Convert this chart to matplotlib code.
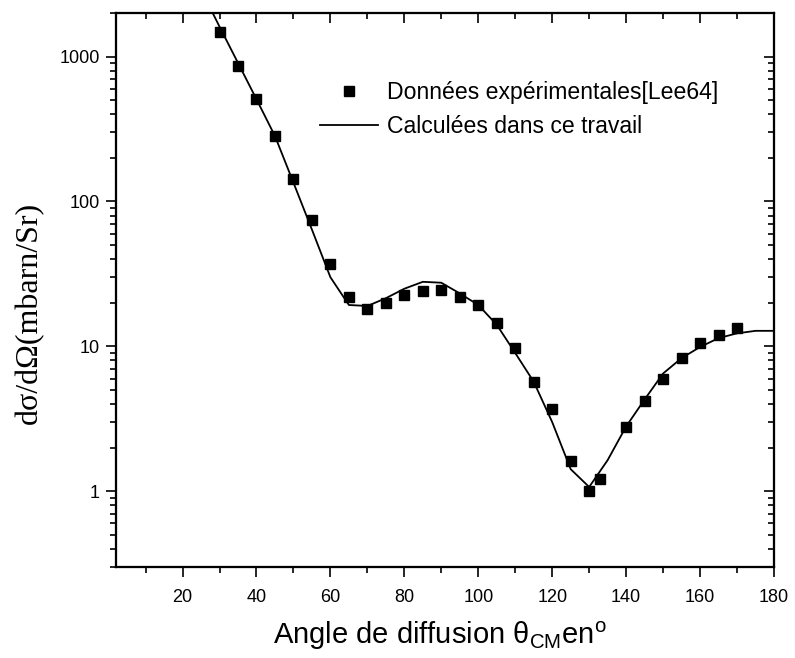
import numpy as np
import matplotlib
matplotlib.use("Agg")
import matplotlib.pyplot as plt
from matplotlib.ticker import FixedLocator, NullFormatter, LogLocator, MultipleLocator

plt.rcParams['font.family'] = ['Liberation Sans', 'DejaVu Sans']
plt.rcParams['mathtext.fontset'] = 'custom'
plt.rcParams['mathtext.rm'] = 'Liberation Sans'
plt.rcParams['mathtext.it'] = 'Liberation Sans:italic'

# Experimental cross sections [Lee64]
exp_angle = [30, 35, 40, 45, 50, 55, 60, 65, 70, 75, 80, 85, 90, 95, 100,
             105, 110, 115, 120, 125, 130, 133, 140, 145, 150, 155, 160, 165, 170]
exp_xs = [1490, 862, 508, 283, 142, 74.5, 36.8, 22.0, 18.0, 19.8, 22.6, 24.2, 24.5, 22.0, 19.3,
          14.6, 9.8, 5.7, 3.7, 1.61, 1.0, 1.21, 2.79, 4.19, 5.94, 8.34, 10.6, 12.0, 13.3]

# Calculated cross sections (this work)
calc_angle = [25, 30, 35, 40, 45, 50, 55, 60, 65, 70, 75, 80, 85, 90, 95, 100,
              105, 110, 115, 120, 125, 130, 135, 140, 145, 150, 155, 160, 165, 170, 175, 180]
calc_xs = [2900, 1610, 905, 508, 283, 135, 64, 30, 19.3, 19.0, 21.5, 25.0, 27.9, 27.5, 23.2, 19.3,
           14.1, 9.0, 5.7, 3.0, 1.42, 1.07, 1.64, 2.8, 4.3, 6.5, 8.3, 9.9, 11.4, 12.3, 12.8, 12.8]

y_ticks = [1, 10, 100, 1000]
x_ticks = [20, 40, 60, 80, 100, 120, 140, 160, 180]

W, H = 795, 658
fig = plt.figure(figsize=(W / 100, H / 100), dpi=100)
ax = fig.add_axes([116 / W, 1 - 567 / H, (774 - 116) / W, (567 - 13) / H])

ax.plot(calc_angle, calc_xs, color='black', lw=1.3, label='Calculées dans ce travail', zorder=2)
ax.plot(exp_angle, exp_xs, ls='none', marker='s', ms=6.5, color='black',
        label='Données expérimentales[Lee64]', zorder=3)

ax.set_yscale('log')
ax.set_xlim(2, 180)
ax.set_ylim(0.3, 2000)

ax.xaxis.set_major_locator(FixedLocator(x_ticks))
ax.xaxis.set_minor_locator(MultipleLocator(10))
ax.yaxis.set_major_locator(FixedLocator(y_ticks))
ax.yaxis.set_minor_locator(LogLocator(base=10, subs=np.arange(2, 10)))
ax.yaxis.set_minor_formatter(NullFormatter())
ax.set_yticklabels([str(v) for v in y_ticks])
ax.set_xticklabels([str(v) for v in x_ticks])

for s in ax.spines.values():
    s.set_linewidth(1.5)

ax.tick_params(which='both', direction='out', top=False, right=False, width=1.2,
               labelsize=13, colors='black')
ax.tick_params(which='major', length=7.5, pad=4)
ax.tick_params(which='minor', length=4.3)
ax.tick_params(axis='x', which='major', pad=8)

# Mirrored inward ticks on top and right
axr = ax.twinx()
axr.set_yscale('log')
axr.set_ylim(ax.get_ylim())
axr.yaxis.set_major_locator(FixedLocator(y_ticks))
axr.yaxis.set_minor_locator(LogLocator(base=10, subs=np.arange(2, 10)))
axr.tick_params(which='both', direction='in', labelright=False, width=1.2)
axr.tick_params(which='major', length=7.5)
axr.tick_params(which='minor', length=4.3)

axt = ax.twiny()
axt.set_xlim(ax.get_xlim())
axt.xaxis.set_major_locator(FixedLocator(x_ticks))
axt.xaxis.set_minor_locator(MultipleLocator(10))
axt.tick_params(which='both', direction='in', labeltop=False, width=1.2)
axt.tick_params(which='major', length=7.5)
axt.tick_params(which='minor', length=4.3)
for a in (axr, axt):
    for s in a.spines.values():
        s.set_linewidth(1.5)

fig.text(440 / W, 1 - 636 / H, r'Angle de diffusion θ$_{\mathrm{CM}}$en$^{\mathrm{o}}$',
         fontsize=21, ha='center', va='center')
fig.text(29 / W, 1 - 313 / H, 'dσ/dΩ(mbarn/Sr)', family=['Liberation Serif', 'DejaVu Serif'],
         fontsize=23, rotation=90, ha='center', va='center')

handles, labels = ax.get_legend_handles_labels()
leg = ax.legend(handles[::-1], labels[::-1], loc='upper left',
                bbox_to_anchor=(320 / W, 1 - 81.5 / H), bbox_transform=fig.transFigure,
                frameon=False, fontsize=16.6, handlelength=2.5, handletextpad=0.4,
                labelspacing=0.47, borderpad=0, borderaxespad=0, numpoints=1)

fig.savefig('out.png', dpi=100)
